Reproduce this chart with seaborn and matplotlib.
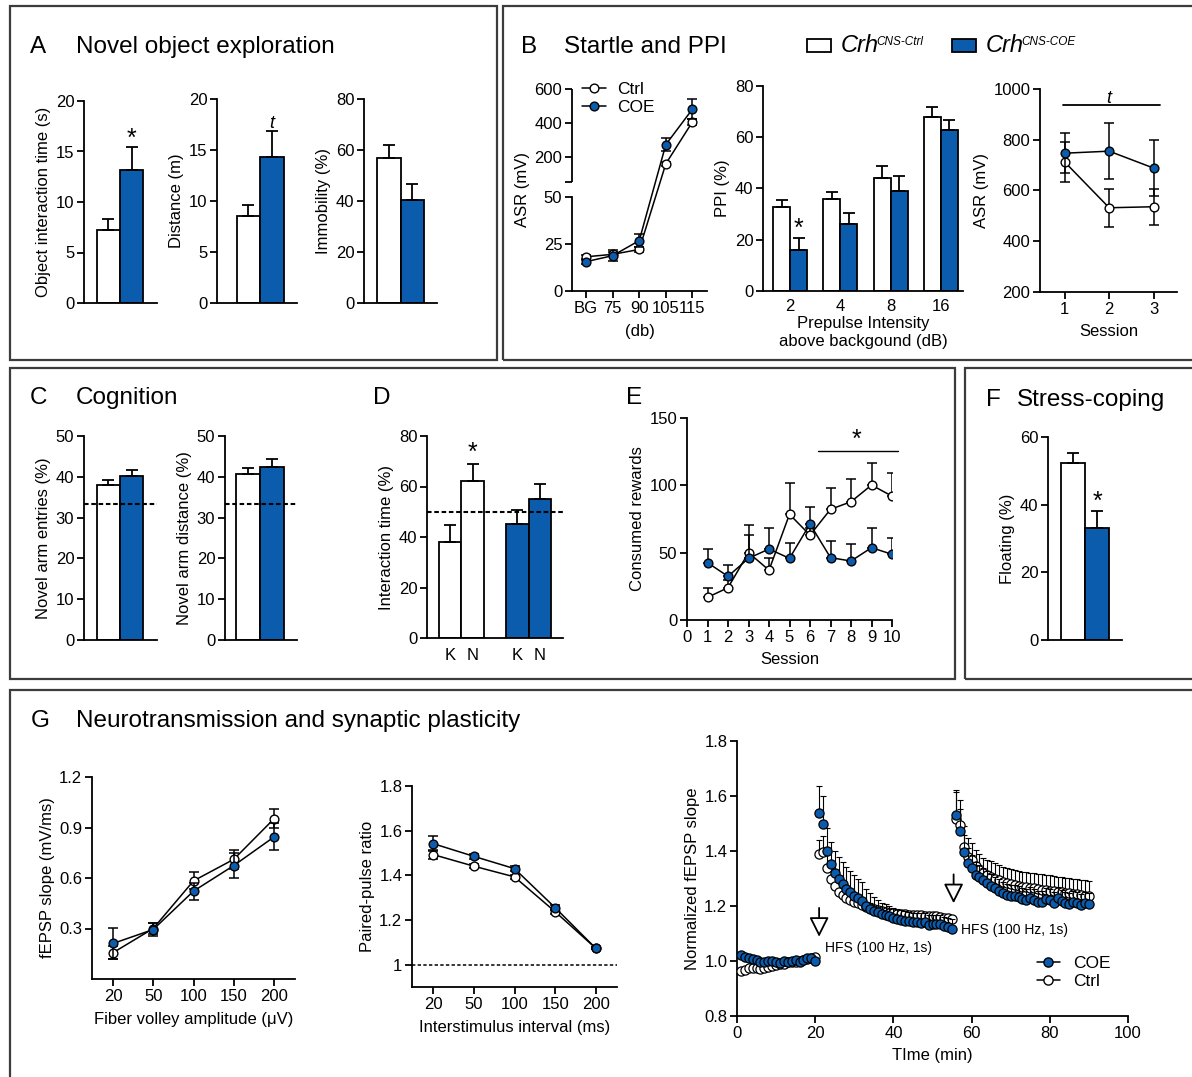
import numpy as np
import pandas as pd
import matplotlib
matplotlib.use("Agg")
import matplotlib.pyplot as plt
import seaborn as sns
from matplotlib.patches import Rectangle
from matplotlib.lines import Line2D
from matplotlib.container import BarContainer
from matplotlib.ticker import FixedLocator, NullFormatter, FormatStrFormatter

# ---------------------------------------------------------------- data
groups = ["Ctrl", "COE"]
group_labels = {"Ctrl": "CNS-Ctrl", "COE": "CNS-COE"}

# A  Novel object exploration (mean, SEM)
nor_interaction_mean = [7.2, 13.2]
nor_interaction_sem = [1.1, 2.2]
nor_distance_mean = [8.5, 14.3]
nor_distance_sem = [1.1, 2.6]
nor_immobility_mean = [57.0, 40.5]
nor_immobility_sem = [5.0, 6.0]

# B  Acoustic startle response and prepulse inhibition
asr_levels = ["BG", "75", "90", "105", "115"]
asr_ctrl = [18.2, 19.5, 22.1, 160.0, 406.0]
asr_ctrl_sem = [1.0, 1.0, 1.2, 12.0, 15.0]
asr_coe = [15.6, 18.8, 26.8, 273.0, 481.0]
asr_coe_sem = [1.0, 2.9, 3.4, 40.0, 58.0]

ppi_levels = ["2", "4", "8", "16"]
ppi_ctrl = [32.7, 35.8, 44.0, 68.0]
ppi_ctrl_sem = [2.8, 2.8, 4.8, 3.9]
ppi_coe = [16.0, 26.2, 39.0, 63.0]
ppi_coe_sem = [4.6, 4.3, 5.7, 3.8]

asr_sessions = [1, 2, 3]
asr_session_ctrl = [713, 532, 536]
asr_session_ctrl_sem = [80, 74, 71]
asr_session_coe = [747, 755, 688]
asr_session_coe_sem = [79, 110, 110]

# C  Y-maze
ymaze_entries_mean = [38.0, 40.3]
ymaze_entries_sem = [1.2, 1.3]
ymaze_distance_mean = [40.8, 42.5]
ymaze_distance_sem = [1.3, 1.8]
ymaze_chance = 33.3

# D  Object recognition (K = known, N = novel)
objects = ["K", "N"]
object_ctrl = [38.2, 62.2]
object_ctrl_sem = [6.6, 6.6]
object_coe = [45.0, 55.2]
object_coe_sem = [5.7, 5.7]
object_chance = 50

# E  Consumed rewards per session
reward_sessions = [1, 2, 3, 4, 5, 6, 7, 8, 9, 10]
reward_ctrl = [16.8, 24.0, 50.0, 37.0, 78.5, 63.0, 82.2, 87.8, 100.2, 92.0]
reward_ctrl_sem = [6.7, 6.0, 20.5, 9.0, 23.5, 5.0, 15.6, 16.7, 16.3, 17.4]
reward_coe = [42.6, 32.4, 45.8, 52.7, 45.8, 71.3, 46.3, 43.8, 53.7, 48.8]
reward_coe_sem = [10.4, 8.4, 17.2, 15.8, 11.6, 12.7, 12.6, 12.4, 14.8, 11.8]

# F  Forced swim
floating_mean = [52.4, 33.2]
floating_sem = [2.8, 4.9]

# G  Input-output, paired-pulse and LTP
fv_amplitude = ["20", "50", "100", "150", "200"]
io_ctrl = [0.156, 0.300, 0.583, 0.711, 0.952]
io_ctrl_sem = [0.040, 0.030, 0.050, 0.055, 0.055]
io_coe = [0.211, 0.294, 0.522, 0.674, 0.844]
io_coe_sem = [0.093, 0.040, 0.050, 0.074, 0.080]

isi_ms = ["20", "50", "100", "150", "200"]
ppr_ctrl = [1.493, 1.441, 1.393, 1.237, 1.073]
ppr_ctrl_sem = [0.022, 0.008, 0.008, 0.008, 0.005]
ppr_coe = [1.542, 1.485, 1.430, 1.255, 1.073]
ppr_coe_sem = [0.032, 0.010, 0.010, 0.010, 0.005]

ltp_time = np.arange(1, 91)
ltp_coe = [
    1.022, 1.015, 1.010, 1.008, 1.005, 0.997, 0.995, 1.000, 1.000, 0.998,
    0.992, 1.000, 0.998, 1.000, 1.002, 0.995, 1.005, 1.010, 1.010, 1.000,
    1.537, 1.500, 1.401, 1.353, 1.321, 1.297, 1.280, 1.262, 1.250, 1.238,
    1.228, 1.218, 1.200, 1.190, 1.183, 1.178, 1.172, 1.168, 1.163, 1.158,
    1.153, 1.150, 1.147, 1.146, 1.143, 1.143, 1.140, 1.142, 1.132, 1.133,
    1.135, 1.134, 1.128, 1.124, 1.117,
    1.531, 1.473, 1.395, 1.355, 1.337, 1.313, 1.305, 1.295, 1.285, 1.274,
    1.264, 1.256, 1.248, 1.240, 1.236, 1.238, 1.232, 1.225, 1.222, 1.230,
    1.222, 1.216, 1.214, 1.226, 1.222, 1.212, 1.228, 1.220, 1.212, 1.208,
    1.214, 1.210, 1.205, 1.210, 1.208]
ltp_coe_sem = [
    0.008, 0.008, 0.007, 0.007, 0.007, 0.007, 0.007, 0.007, 0.007, 0.007,
    0.007, 0.007, 0.007, 0.007, 0.007, 0.007, 0.008, 0.008, 0.008, 0.008,
    0.100, 0.100, 0.083, 0.080, 0.080, 0.080, 0.080, 0.080, 0.078, 0.075,
    0.072, 0.068, 0.062, 0.058, 0.050, 0.045, 0.040, 0.038, 0.036, 0.035,
    0.035, 0.034, 0.034, 0.034, 0.033, 0.033, 0.033, 0.033, 0.034, 0.033,
    0.032, 0.032, 0.032, 0.033, 0.035,
    0.090, 0.080, 0.062, 0.055, 0.050, 0.047, 0.045, 0.044, 0.043, 0.042,
    0.042, 0.041, 0.041, 0.040, 0.040, 0.040, 0.040, 0.040, 0.040, 0.040,
    0.040, 0.040, 0.040, 0.040, 0.040, 0.040, 0.040, 0.040, 0.040, 0.040,
    0.040, 0.040, 0.040, 0.040, 0.040]
ltp_ctrl = [
    0.962, 0.968, 0.975, 0.976, 0.973, 0.970, 0.975, 0.978, 0.982, 0.985,
    0.988, 0.990, 0.995, 0.996, 0.998, 1.000, 1.003, 1.006, 1.010, 1.016,
    1.390, 1.395, 1.340, 1.297, 1.272, 1.252, 1.240, 1.230, 1.222, 1.216,
    1.210, 1.204, 1.198, 1.194, 1.190, 1.186, 1.182, 1.179, 1.176, 1.174,
    1.172, 1.171, 1.170, 1.169, 1.168, 1.167, 1.166, 1.165, 1.164, 1.163,
    1.162, 1.160, 1.158, 1.157, 1.152,
    1.515, 1.495, 1.416, 1.379, 1.367, 1.345, 1.330, 1.320, 1.312, 1.307,
    1.300, 1.294, 1.288, 1.283, 1.279, 1.276, 1.273, 1.270, 1.268, 1.266,
    1.264, 1.262, 1.260, 1.258, 1.256, 1.254, 1.252, 1.250, 1.248, 1.246,
    1.244, 1.242, 1.240, 1.238, 1.236]
ltp_ctrl_sem = [
    0.010, 0.010, 0.010, 0.010, 0.010, 0.010, 0.010, 0.010, 0.010, 0.010,
    0.010, 0.010, 0.010, 0.010, 0.010, 0.010, 0.010, 0.010, 0.010, 0.010,
    0.050, 0.060, 0.055, 0.045, 0.040, 0.036, 0.032, 0.028, 0.025, 0.022,
    0.020, 0.018, 0.017, 0.016, 0.015, 0.015, 0.014, 0.014, 0.014, 0.014,
    0.013, 0.013, 0.013, 0.013, 0.013, 0.013, 0.013, 0.013, 0.013, 0.013,
    0.013, 0.013, 0.013, 0.013, 0.013,
    0.100, 0.090, 0.075, 0.068, 0.062, 0.060, 0.058, 0.056, 0.056, 0.055,
    0.055, 0.055, 0.055, 0.055, 0.055, 0.055, 0.055, 0.055, 0.055, 0.055,
    0.055, 0.055, 0.055, 0.055, 0.055, 0.055, 0.055, 0.055, 0.055, 0.055,
    0.055, 0.055, 0.055, 0.055, 0.055]

# ---------------------------------------------------------------- style
sns.set_theme(style="ticks")
plt.rcParams["font.family"] = ["Liberation Sans", "DejaVu Sans"]
for key in ["text.color", "axes.labelcolor", "xtick.color", "ytick.color", "axes.edgecolor"]:
    plt.rcParams[key] = "black"

BLUE = "#0b5cad"
PALETTE = {"Ctrl": "white", "COE": BLUE}
FACE = {"Ctrl": "white", "COE": BLUE}
LW = 1.3
FS = 12
TITLE_FS = 17.5

W, H = 1192, 1077
fig = plt.figure(figsize=(W / 100, H / 100), dpi=100)
renderer = fig.canvas.get_renderer()


def px_axes(left, top, right, bottom):
    return fig.add_axes([left / W, 1 - bottom / H, (right - left) / W, (bottom - top) / H])


def px_box(left, top, right, bottom, **kw):
    style = dict(fill=False, edgecolor="#3c3c3c", linewidth=1.6)
    style.update(kw)
    fig.add_artist(Rectangle((left / W, 1 - bottom / H), (right - left) / W, (bottom - top) / H,
                             transform=fig.transFigure, **style))


def px_text(x, y, s, size=TITLE_FS, **kw):
    return fig.text(x / W, 1 - y / H, s, fontsize=size, va="baseline", ha="left", **kw)


def style_axes(ax, xtick_len=5, xpad=2):
    for side in ("top", "right"):
        ax.spines[side].set_visible(False)
    for side in ("left", "bottom"):
        ax.spines[side].set_linewidth(LW)
        ax.spines[side].set_color("black")
    ax.tick_params(axis="y", length=5, width=LW, labelsize=FS, pad=2, direction="out")
    ax.tick_params(axis="x", length=xtick_len, width=LW, labelsize=FS, pad=xpad, direction="out")
    ax.grid(False)
    ax.set_facecolor("none")


def bar_errors(ax, sems_per_group):
    conts = [c for c in ax.containers if isinstance(c, BarContainer)]
    for cont, sems in zip(conts, sems_per_group):
        bars = sorted(cont.patches, key=lambda p: p.get_x())
        xs = [p.get_x() + p.get_width() / 2 for p in bars]
        tops = [p.get_height() for p in bars]
        ax.errorbar(xs, tops, yerr=[np.zeros(len(sems)), sems], fmt="none",
                    ecolor="black", elinewidth=LW, capsize=4.5, capthick=LW, zorder=3)


def mark(ax, x, y, s="*", size=18, italic=False, dy=1.5):
    ax.annotate(s, xy=(x, y), xytext=(0, dy), textcoords="offset points",
                ha="center", va="baseline", fontsize=size,
                fontstyle="italic" if italic else "normal", annotation_clip=False)


def bar_pair(ax, means, sems, ylim, yticks, ylabel, xlim):
    df = pd.DataFrame({"group": groups, "value": means})
    sns.barplot(data=df, x="group", y="value", hue="group", order=groups, hue_order=groups,
                palette=PALETTE, width=1.0, saturation=1, edgecolor="black", linewidth=LW,
                errorbar=None, legend=False, dodge=False, ax=ax)
    bar_errors(ax, [[s] for s in sems])
    ax.set_xlim(*xlim)
    ax.set_ylim(*ylim)
    ax.set_yticks(yticks)
    ax.set_xticks([])
    ax.set_xlabel("")
    ax.set_ylabel(ylabel, fontsize=FS, labelpad=3)
    style_axes(ax)


def line_pair(ax, x, series, upward=False, ms=6.3, lw=1.1, cap=3.5, elw=1.1, connect=True):
    for name, vals, sems, z in series:
        lower = np.zeros(len(sems)) if upward else sems
        ax.errorbar(x, vals, yerr=[lower, sems], fmt="none", ecolor="black",
                    elinewidth=elw, capsize=cap, capthick=elw, zorder=z - 0.5)
        if connect:
            sns.lineplot(x=x, y=vals, ax=ax, color="black", linewidth=lw, marker="o",
                         markersize=ms, markerfacecolor=FACE[name], markeredgecolor="black",
                         markeredgewidth=1.0, errorbar=None, zorder=z)
        else:
            sns.scatterplot(x=x, y=vals, ax=ax, s=ms ** 2, color=FACE[name],
                            edgecolor="black", linewidth=0.9, zorder=z, legend=False)


def marker_handle(face, ms=6.3):
    return Line2D([], [], color="black", lw=1.1, marker="o", markersize=ms,
                  markerfacecolor=face, markeredgecolor="black")


# ---------------------------------------------------------------- panel frames
px_box(10, 6, 497, 360)
px_box(503, 6, 1196, 360)
px_box(10, 368, 955, 679)
px_box(965, 368, 1196, 679)
px_box(10, 690, 1196, 1090)

px_text(30, 53, "A")
px_text(76, 53, "Novel object exploration")
px_text(521, 53, "B")
px_text(564, 53, "Startle and PPI")
px_text(30, 404, "C")
px_text(76, 404, "Cognition")
px_text(373, 404, "D")
px_text(626, 404, "E")
px_text(986, 406, "F")
px_text(1017, 406, "Stress-coping")
px_text(31, 727, "G")
px_text(76, 727, "Neurotransmission and synaptic plasticity")

# ---------------------------------------------------------------- genotype key (panel B header)
for name, rect_x in zip(groups, [807, 952]):
    px_box(rect_x, 39, rect_x + 24, 52, fill=True, facecolor=PALETTE[name],
           edgecolor="black", linewidth=LW)
    base = px_text(rect_x + 34, 52, "Crh", size=17, fontstyle="italic")
    x_end = base.get_window_extent(renderer).x1
    fig.text((x_end - 2.5) / W, 1 - 45 / H, group_labels[name], fontsize=8.5,
             fontstyle="italic", va="baseline", ha="left")

# ---------------------------------------------------------------- A
ax = px_axes(84, 101, 157, 303)
bar_pair(ax, nor_interaction_mean, nor_interaction_sem, (0, 20), [0, 5, 10, 15, 20],
         "Object interaction time (s)", (-1.05, 2.1))
mark(ax, 1, nor_interaction_mean[1] + nor_interaction_sem[1])

ax = px_axes(217, 99, 297, 303)
bar_pair(ax, nor_distance_mean, nor_distance_sem, (0, 20), [0, 5, 10, 15, 20],
         "Distance (m)", (-1.33, 2.05))
mark(ax, 1, nor_distance_mean[1] + nor_distance_sem[1], s="t", size=13, italic=True, dy=2)

ax = px_axes(364, 99, 437, 303)
bar_pair(ax, nor_immobility_mean, nor_immobility_sem, (0, 80), [0, 20, 40, 60, 80],
         "Immobility (%)", (-1.05, 2.05))

# ---------------------------------------------------------------- B1 broken ASR axis
def asr_fwd(v):
    v = np.asarray(v, dtype=float)
    return np.where(v <= 50, v / 50 * 94.0, 108.5 + (v - 50) * 93.5 / 550)


def asr_inv(u):
    u = np.asarray(u, dtype=float)
    return np.where(u <= 94.0, u / 94.0 * 50,
                    np.where(u < 108.5, 50.0, 50 + (u - 108.5) * 550 / 93.5))


ax = px_axes(572, 89, 707, 291)
ax.set_yscale("function", functions=(asr_fwd, asr_inv))
xpos = np.arange(len(asr_levels))
line_pair(ax, xpos, [("Ctrl", asr_ctrl, asr_ctrl_sem, 4), ("COE", asr_coe, asr_coe_sem, 5)])
ax.set_ylim(0, 600)
ax.set_xlim(-0.53, 4.55)
ax.set_yticks([0, 25, 50, 200, 400, 600])
ax.set_yticklabels(["0", "25", "50", "200", "400", "600"])
ax.yaxis.set_minor_locator(FixedLocator([50.5]))
ax.yaxis.set_minor_formatter(NullFormatter())
ax.set_xticks(xpos)
ax.set_xticklabels(asr_levels)
style_axes(ax)
ax.tick_params(axis="y", which="minor", length=5, width=LW)
ax.spines["left"].set_bounds(0, 50)
ax.plot([0, 0], [50.5, 600], transform=ax.get_yaxis_transform(), color="black",
        linewidth=LW, clip_on=False, solid_capstyle="butt")
ax.set_xlabel("(db)", fontsize=FS, labelpad=6)
ax.set_ylabel("ASR (mV)", fontsize=FS, labelpad=3)
ax.legend(handles=[marker_handle("white"), marker_handle(BLUE)],
          labels=["Ctrl", "COE"], loc="upper left", bbox_to_anchor=(582 / W, 1 - 82 / H),
          bbox_transform=fig.transFigure, frameon=False, fontsize=12.5, handlelength=1.4,
          handletextpad=0.6, labelspacing=0.15, borderpad=0, borderaxespad=0)

# ---------------------------------------------------------------- B2 PPI
ax = px_axes(763, 86, 963, 291)
ppi_df = pd.DataFrame({
    "level": ppi_levels * 2,
    "group": ["Ctrl"] * len(ppi_levels) + ["COE"] * len(ppi_levels),
    "value": ppi_ctrl + ppi_coe,
})
sns.barplot(data=ppi_df, x="level", y="value", hue="group", order=ppi_levels,
            hue_order=groups, palette=PALETTE, width=0.675, saturation=1,
            edgecolor="black", linewidth=LW, errorbar=None, legend=False, ax=ax)
bar_errors(ax, [ppi_ctrl_sem, ppi_coe_sem])
ax.set_xlim(-0.54, 3.44)
ax.set_ylim(0, 80)
ax.set_yticks([0, 20, 40, 60, 80])
style_axes(ax, xtick_len=0, xpad=6)
ax.set_xlabel("Prepulse Intensity\nabove backgound (dB)", fontsize=FS, labelpad=1,
              linespacing=1.3)
ax.set_ylabel("PPI (%)", fontsize=FS, labelpad=3)
mark(ax, 0.17, ppi_coe[0] + ppi_coe_sem[0])

# ---------------------------------------------------------------- B3 sessions
ax = px_axes(1040, 89, 1177, 292)
line_pair(ax, asr_sessions, [("Ctrl", asr_session_ctrl, asr_session_ctrl_sem, 4),
                             ("COE", asr_session_coe, asr_session_coe_sem, 5)])
ax.set_xlim(0.45, 3.52)
ax.set_ylim(200, 1000)
ax.set_yticks([200, 400, 600, 800, 1000])
ax.set_xticks(asr_sessions)
style_axes(ax)
ax.set_xlabel("Session", fontsize=FS, labelpad=5)
ax.set_ylabel("ASR (mV)", fontsize=FS, labelpad=3)
ax.plot([0.96, 3.15], [935, 935], color="black", linewidth=LW, clip_on=False)
mark(ax, 2.0, 935, s="t", size=13, italic=True, dy=2)

# ---------------------------------------------------------------- C
ax = px_axes(84, 436, 157, 640)
bar_pair(ax, ymaze_entries_mean, ymaze_entries_sem, (0, 50), [0, 10, 20, 30, 40, 50],
         "Novel arm entries (%)", (-1.05, 2.1))
ax.axhline(ymaze_chance, color="black", linewidth=1.5, linestyle=(0, (2.2, 1.3)), zorder=4)

ax = px_axes(225, 436, 297, 640)
bar_pair(ax, ymaze_distance_mean, ymaze_distance_sem, (0, 50), [0, 10, 20, 30, 40, 50],
         "Novel arm distance (%)", (-0.96, 2.04))
ax.axhline(ymaze_chance, color="black", linewidth=1.5, linestyle=(0, (2.2, 1.3)), zorder=4)

# ---------------------------------------------------------------- D
ax = px_axes(427, 436, 563, 638)
slot_names = [f"{o} {g}" for g in groups for o in objects]
obj_df = pd.DataFrame({
    "slot": slot_names,
    "group": [g for g in groups for _ in objects],
    "value": object_ctrl + object_coe,
})
slot_order = slot_names[:2] + [" "] + slot_names[2:]
sns.barplot(data=obj_df, x="slot", y="value", hue="group", order=slot_order,
            hue_order=groups, palette=PALETTE, width=1.0, saturation=1, dodge=False,
            edgecolor="black", linewidth=LW, errorbar=None, legend=False, ax=ax)
bar_errors(ax, [object_ctrl_sem, object_coe_sem])
ax.axhline(object_chance, color="black", linewidth=1.5, linestyle=(0, (2.2, 1.3)), zorder=4)
ax.set_xlim(-1.03, 5.03)
ax.set_ylim(0, 80)
ax.set_yticks([0, 20, 40, 60, 80])
ax.set_xticks([0, 1, 3, 4])
ax.set_xticklabels(objects * 2)
style_axes(ax, xtick_len=0, xpad=7)
ax.set_xlabel("")
ax.set_ylabel("Interaction time (%)", fontsize=FS, labelpad=3)
mark(ax, 1, object_ctrl[1] + object_ctrl_sem[1], dy=3)

# ---------------------------------------------------------------- E
ax = px_axes(687, 418, 892, 620)
line_pair(ax, reward_sessions, [("Ctrl", reward_ctrl, reward_ctrl_sem, 4),
                                ("COE", reward_coe, reward_coe_sem, 5)], upward=True)
ax.set_xlim(0, 10)
ax.set_ylim(0, 150)
ax.set_xticks(range(0, 11))
ax.set_yticks([0, 50, 100, 150])
style_axes(ax)
ax.set_xlabel("Session", fontsize=FS, labelpad=5)
ax.set_ylabel("Consumed rewards", fontsize=FS, labelpad=3)
ax.plot([6.4, 10.27], [125.5, 125.5], color="black", linewidth=1.0, clip_on=False)
mark(ax, 8.25, 125.5, dy=3)

# ---------------------------------------------------------------- F
ax = px_axes(1048, 437, 1122, 640)
bar_pair(ax, floating_mean, floating_sem, (0, 60), [0, 20, 40, 60],
         "Floating (%)", (-1.04, 2.04))
mark(ax, 1, floating_mean[1] + floating_sem[1])

# ---------------------------------------------------------------- G1 input-output
ax = px_axes(92, 777, 295, 979)
xpos = np.arange(len(fv_amplitude))
line_pair(ax, xpos, [("Ctrl", io_ctrl, io_ctrl_sem, 4), ("COE", io_coe, io_coe_sem, 5)])
ax.set_xlim(-0.52, 4.52)
ax.set_ylim(0, 1.2)
ax.set_yticks([0.3, 0.6, 0.9, 1.2])
ax.yaxis.set_major_formatter(FormatStrFormatter("%.1f"))
ax.set_xticks(xpos)
ax.set_xticklabels(fv_amplitude)
style_axes(ax)
ax.set_xlabel("Fiber volley amplitude (\u03bcV)", fontsize=FS, labelpad=6)
ax.set_ylabel("fEPSP slope (mV/ms)", fontsize=FS, labelpad=3)

# ---------------------------------------------------------------- G2 paired pulse
ax = px_axes(412, 786, 617, 987)
xpos = np.arange(len(isi_ms))
ax.axhline(1.0, color="black", linewidth=1.1, linestyle=(0, (2.2, 1.5)), zorder=1)
line_pair(ax, xpos, [("Ctrl", ppr_ctrl, ppr_ctrl_sem, 4), ("COE", ppr_coe, ppr_coe_sem, 5)])
ax.set_xlim(-0.52, 4.52)
ax.set_ylim(0.9, 1.8)
ax.set_yticks([1.0, 1.2, 1.4, 1.6, 1.8])
ax.set_yticklabels(["1", "1.2", "1.4", "1.6", "1.8"])
ax.set_xticks(xpos)
ax.set_xticklabels(isi_ms)
style_axes(ax)
ax.set_xlabel("Interstimulus interval (ms)", fontsize=FS, labelpad=6)
ax.set_ylabel("Paired-pulse ratio", fontsize=FS, labelpad=3)

# ---------------------------------------------------------------- G3 LTP time course
ax = px_axes(737, 741, 1128, 1016)
line_pair(ax, ltp_time, [("Ctrl", ltp_ctrl, ltp_ctrl_sem, 4), ("COE", ltp_coe, ltp_coe_sem, 5)],
          upward=True, ms=6.6, cap=2.5, elw=0.8, connect=False)
ax.set_xlim(0, 100)
ax.set_ylim(0.8, 1.8)
ax.set_xticks([0, 20, 40, 60, 80, 100])
ax.set_yticks([0.8, 1.0, 1.2, 1.4, 1.6, 1.8])
ax.yaxis.set_major_formatter(FormatStrFormatter("%.1f"))
style_axes(ax)
ax.set_xlabel("TIme (min)", fontsize=FS, labelpad=5)
ax.set_ylabel("Normalized fEPSP slope", fontsize=FS, labelpad=3)
for t_hfs, y_top, y_tip, t_lab, y_lab in [(21, 1.193, 1.088, 22.6, 1.047),
                                          (55.4, 1.315, 1.210, 57.2, 1.113)]:
    ax.annotate("", xy=(t_hfs, y_tip), xytext=(t_hfs, y_top),
                arrowprops=dict(arrowstyle="-|>,head_length=0.6,head_width=0.3",
                                facecolor="white", edgecolor="black", linewidth=1.3,
                                mutation_scale=20, shrinkA=0, shrinkB=0))
    ax.text(t_lab, y_lab, "HFS (100 Hz, 1s)", fontsize=10, va="center", ha="left")
ax.legend(handles=[marker_handle(BLUE, 6.6), marker_handle("white", 6.6)],
          labels=["COE", "Ctrl"], loc="upper left", bbox_to_anchor=(1037 / W, 1 - 956 / H),
          bbox_transform=fig.transFigure, frameon=False, fontsize=12.5, handlelength=1.3,
          handletextpad=0.8, labelspacing=0.15, borderpad=0, borderaxespad=0)

fig.savefig("out.png", dpi=100)
